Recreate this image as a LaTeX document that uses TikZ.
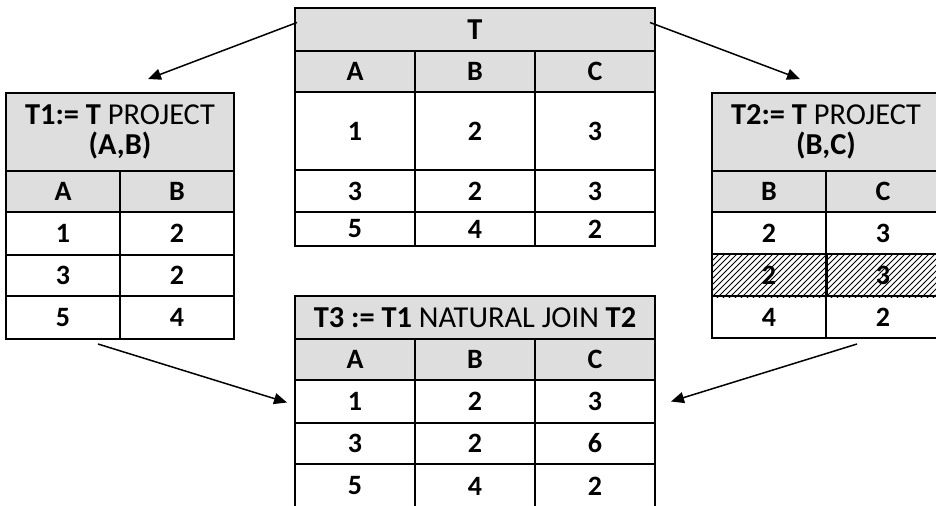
\documentclass[tikz,border=0pt]{standalone}
\usepackage{fontspec}
\setmainfont{Carlito}
\usetikzlibrary{arrows.meta, patterns}

\begin{document}
\begin{tikzpicture}[x=0.5pt, y=-0.5pt,
  cell/.style={draw, line width=1pt, fill=white, inner sep=0pt, anchor=north west, font=\fontsize{14}{15}\selectfont\bfseries},
  head/.style={cell, fill=black!13},
  title/.style={head, align=center, font=\fontsize{15.2}{15.2}\selectfont},
  arr/.style={line width=0.75pt, -{Triangle[length=6.5pt, width=5.5pt]}}]

\useasboundingbox (0,0) rectangle (936,505);

% T
\begin{scope}
\node[title, minimum width=180pt, minimum height=21.5pt] (T-title) at (294,7) {\textbf{T}};
\foreach \c/\x/\v in {a/294/A, b/414/B, c/534/C}
  \node[head, minimum width=60pt, minimum height=20.5pt] (T-\c) at (\x,50) {\v};
\foreach \r/\y/\h/\va/\vb/\vc in {1/91/39/1/2/3, 2/169/21/3/2/3, 3/211/17/5/4/2} {
  \node[cell, minimum width=60pt, minimum height=\h pt] (T-\r a) at (294,\y) {\va};
  \node[cell, minimum width=60pt, minimum height=\h pt] (T-\r b) at (414,\y) {\vb};
  \node[cell, minimum width=60pt, minimum height=\h pt] (T-\r c) at (534,\y) {\vc};
}
\end{scope}

% T1
\begin{scope}
\node[title, minimum width=114pt, minimum height=39pt] (T1-title) at (5,92) {\textbf{T1:= T} PROJECT\\\textbf{(A,B)}};
\node[head, minimum width=57pt, minimum height=20.5pt] (T1-a) at (5,170) {A};
\node[head, minimum width=57pt, minimum height=20.5pt] (T1-b) at (119,170) {B};
\foreach \r/\y/\h/\va/\vb in {1/211/21.5/1/2, 2/254/20.5/3/2, 3/295/21.5/5/4} {
  \node[cell, minimum width=57pt, minimum height=\h pt] (T1-\r a) at (5,\y) {\va};
  \node[cell, minimum width=57pt, minimum height=\h pt] (T1-\r b) at (119,\y) {\vb};
}
\end{scope}

% T2
\begin{scope}
\node[title, minimum width=114pt, minimum height=39pt] (T2-title) at (711,92) {\textbf{T2:= T} PROJECT\\\textbf{(B,C)}};
\node[head, minimum width=57pt, minimum height=20.5pt] (T2-b) at (711,170) {B};
\node[head, minimum width=57pt, minimum height=20.5pt] (T2-c) at (825,170) {C};
\foreach \r/\y/\vb/\vc in {1/211/2/3, 2/253/2/3, 3/295/4/2} {
  \node[cell, minimum width=57pt, minimum height=21pt] (T2-\r b) at (711,\y) {\vb};
  \node[cell, minimum width=57pt, minimum height=21pt] (T2-\r c) at (825,\y) {\vc};
}
\fill[pattern=north east lines] (T2-2b.north west) rectangle (T2-2c.south east);
\draw[line width=1pt] (T2-2b.north east) -- (T2-2b.south east);
\end{scope}

% T3
\begin{scope}
\node[title, minimum width=180pt, minimum height=21.5pt] (T3-title) at (294,295) {\textbf{T3 := T1} NATURAL JOIN \textbf{T2}};
\foreach \c/\x/\v in {a/294/A, b/414/B, c/534/C}
  \node[head, minimum width=60pt, minimum height=20.5pt] (T3-\c) at (\x,338) {\v};
\foreach \r/\y/\h/\va/\vb/\vc in {1/379/21.5/1/2/3, 2/422/20.5/3/2/6, 3/463/22/5/4/2} {
  \node[cell, minimum width=60pt, minimum height=\h pt] (T3-\r a) at (294,\y) {\va};
  \node[cell, minimum width=60pt, minimum height=\h pt] (T3-\r b) at (414,\y) {\vb};
  \node[cell, minimum width=60pt, minimum height=\h pt] (T3-\r c) at (534,\y) {\vc};
}
\end{scope}

\coordinate (t1-in) at (148,79);
\coordinate (t2-in) at (800,79);
\coordinate (t1-out) at (98,344);
\coordinate (t2-out) at (857,344);

\draw[arr] ([shift={(3,-7)}]T-title.west) -- (t1-in);
\draw[arr] ([shift={(-6,-7)}]T-title.east) -- (t2-in);
\draw[arr] (t1-out) -- ([shift={(-7,1)}]T3-1a.west);
\draw[arr] (t2-out) -- ([shift={(15,0)}]T3-1c.east);

\end{tikzpicture}
\end{document}
